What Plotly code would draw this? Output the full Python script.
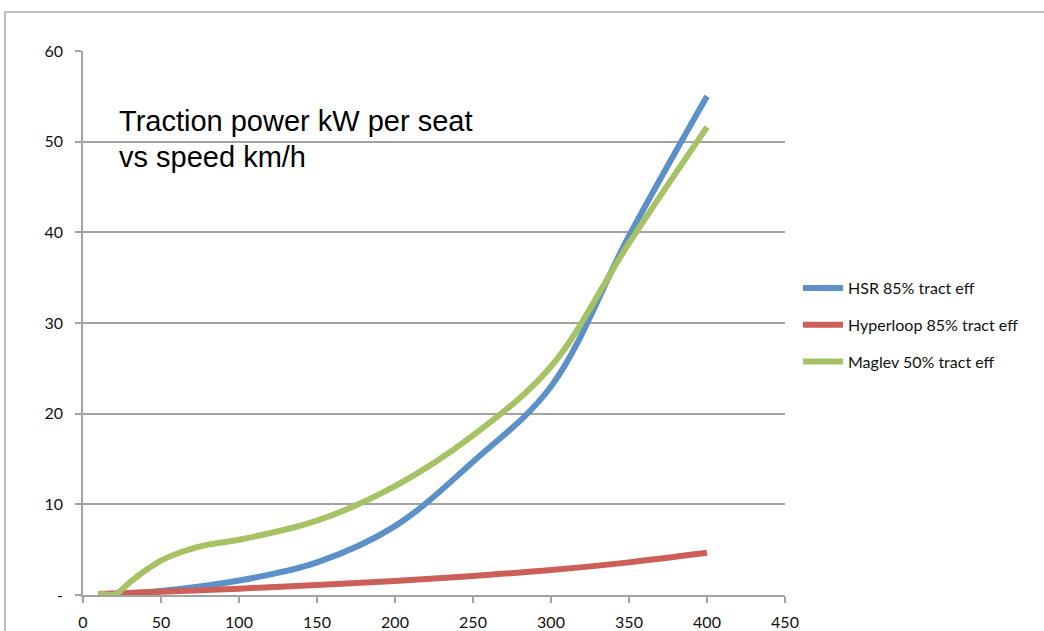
import plotly.graph_objects as go

# Speed (km/h) sample points for each series
speed_hsr = [10, 50, 100, 150, 200, 250, 300, 350, 400]
hsr = [0.05, 0.45, 1.6, 3.6, 7.6, 14.7, 23.0, 39.6, 55.0]

speed_hyper = [10, 50, 100, 150, 200, 250, 300, 350, 400]
hyperloop = [0.1, 0.35, 0.7, 1.1, 1.55, 2.1, 2.75, 3.6, 4.65]

speed_maglev = [10, 20, 30, 40, 50, 65, 80, 100, 150, 200, 250, 300, 350, 400]
maglev = [0.2, 0.05, 1.4, 2.7, 3.8, 4.85, 5.55, 6.1, 8.2, 12.0, 17.6, 25.2, 38.8, 51.6]

series_names = ["HSR 85% tract eff", "Hyperloop 85% tract eff", "Maglev 50% tract eff"]
colors = ["#5b90c8", "#cd5f59", "#a5c265"]

x_ticks = list(range(0, 451, 50))
y_ticks = [0, 10, 20, 30, 40, 50, 60]
y_tick_text = ["-", "10", "20", "30", "40", "50", "60"]

title_lines = ["Traction power kW per seat", "vs speed km/h"]

fig = go.Figure()
for name, xs, ys, col in zip(series_names,
                             [speed_hsr, speed_hyper, speed_maglev],
                             [hsr, hyperloop, maglev], colors):
    fig.add_trace(go.Scatter(
        x=xs, y=ys, name=name, mode="lines", legendgroup=name,
        line=dict(color=col, width=6, shape="spline", smoothing=1.0),
    ))

W, H = 1044, 631
L, R, T, B = 83, 259, 51, 36
pw, ph = W - L - R, H - T - B

def px_x(p):
    return (p - L) / pw

def px_y(p):
    return (H - B - p) / ph

grid_col = "#a3a3a3"

fig.update_layout(
    width=W, height=H,
    margin=dict(l=L, r=R, t=T, b=B, pad=0, autoexpand=False),
    paper_bgcolor="white", plot_bgcolor="white",
    font=dict(family="Lato, Liberation Sans, sans-serif", size=16, color="#111111"),
    showlegend=True,
    legend=dict(
        x=px_x(798), y=px_y(271), xanchor="left", yanchor="top",
        traceorder="grouped", tracegroupgap=13,
        font=dict(size=16, color="#111111"),
        bgcolor="rgba(0,0,0,0)", itemwidth=40,
    ),
    xaxis=dict(
        range=[0, 450], tickvals=x_ticks, showgrid=False, zeroline=False,
        showline=True, linecolor=grid_col, linewidth=1.5,
        ticks="outside", ticklen=6, tickwidth=1.5, tickcolor=grid_col,
        ticklabelstandoff=6, automargin=False,
        fixedrange=True,
    ),
    yaxis=dict(
        range=[0, 60], tickvals=y_ticks, ticktext=y_tick_text,
        showgrid=True, gridcolor=grid_col, gridwidth=1.5, zeroline=False,
        showline=True, linecolor=grid_col, linewidth=1.5,
        ticks="outside", ticklen=6, tickwidth=1.5, tickcolor=grid_col,
        ticklabelstandoff=9, automargin=False,
        fixedrange=True,
    ),
    shapes=[
        # outer chart frame
        dict(type="rect", xref="paper", yref="paper",
             x0=px_x(5), x1=px_x(1060), y0=px_y(650), y1=px_y(12),
             line=dict(color="#a8a8a8", width=1.5), layer="below"),
    ],
)

for i, line in enumerate(title_lines):
    fig.add_annotation(
        text=line, xref="paper", yref="paper",
        x=px_x(117), y=px_y(121 + 36 * i), xanchor="left", yanchor="middle",
        showarrow=False,
        font=dict(family="Liberation Sans, Arial, sans-serif", size=29, color="#000000"),
    )

fig.write_html("out.html")
